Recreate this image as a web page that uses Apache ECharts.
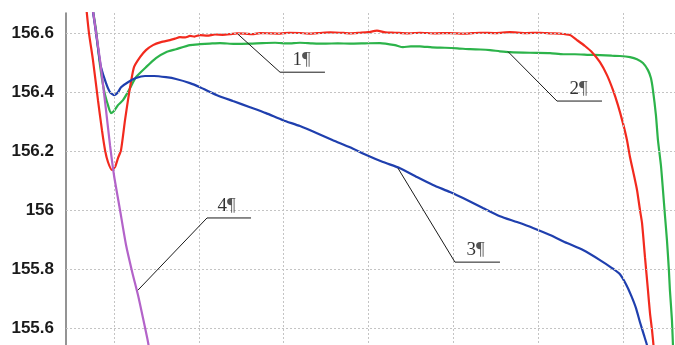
<!DOCTYPE html>
<html>
<head>
<meta charset="utf-8">
<script src="https://cdn.jsdelivr.net/npm/echarts@6/dist/echarts.min.js"></script>
<style>
  html, body { margin: 0; padding: 0; background: #ffffff; }
  #chart { width: 675px; height: 345px; }
</style>
</head>
<body>
<div id="chart"></div>
<script>
// Value range shown on the vertical axis and the positions of the guide lines
const yTicks = [155.6, 155.8, 156, 156.2, 156.4, 156.6];
const xGridLines = [1, 2, 3, 4, 5, 6, 7];

// Curve 1 (red)
const curve1 = [
  [0.670,156.697],[0.705,156.602],[0.752,156.510],[0.811,156.374],[0.858,156.272],[0.894,156.205],
  [0.929,156.164],[0.976,156.137],[1.012,156.147],[1.047,156.177],[1.083,156.205],[1.130,156.306],
  [1.165,156.374],[1.200,156.435],[1.236,156.486],[1.307,156.520],[1.377,156.544],[1.460,156.561],
  [1.554,156.571],[1.660,156.578],[1.720,156.583],[1.778,156.588],[1.840,156.587],[1.896,156.592],
  [1.950,156.590],[2.014,156.595],[2.100,156.593],[2.191,156.597],[2.280,156.596],[2.368,156.598],
  [2.450,156.601],[2.545,156.600],[2.630,156.598],[2.722,156.602],[2.840,156.601],[2.958,156.600],
  [3.070,156.603],[3.193,156.602],[3.310,156.600],[3.429,156.602],[3.550,156.604],[3.665,156.603],
  [3.780,156.601],[3.901,156.603],[4.000,156.605],[4.101,156.610],[4.200,156.604],[4.314,156.603],
  [4.460,156.601],[4.608,156.603],[4.780,156.601],[4.962,156.602],[5.140,156.600],[5.316,156.603],
  [5.500,156.602],[5.670,156.605],[5.850,156.602],[6.024,156.603],[6.150,156.601],[6.259,156.600],
  [6.377,156.595],[6.460,156.578],[6.554,156.558],[6.637,156.537],[6.731,156.503],[6.814,156.459],
  [6.885,156.408],[6.943,156.357],[7.002,156.296],[7.050,156.238],[7.085,156.181],[7.132,156.119],
  [7.168,156.069],[7.203,156.001],[7.227,155.957],[7.262,155.841],[7.297,155.729],[7.321,155.651],
  [7.345,155.593],[7.368,155.525]
];

// Curve 2 (green)
const curve2 = [
  [0.741,156.697],[0.788,156.612],[0.835,156.493],[0.882,156.408],[0.929,156.357],[0.965,156.330],
  [1.000,156.337],[1.047,156.357],[1.106,156.374],[1.177,156.408],[1.259,156.452],[1.377,156.486],
  [1.495,156.517],[1.613,156.537],[1.731,156.547],[1.896,156.561],[2.014,156.564],[2.130,156.566],
  [2.250,156.568],[2.420,156.565],[2.604,156.566],[2.750,156.568],[2.899,156.569],[3.050,156.567],
  [3.193,156.569],[3.340,156.567],[3.488,156.566],[3.640,156.567],[3.783,156.566],[3.960,156.567],
  [4.137,156.568],[4.314,156.561],[4.408,156.554],[4.500,156.557],[4.608,156.557],[4.750,156.553],
  [4.903,156.552],[5.050,156.550],[5.198,156.547],[5.320,156.546],[5.434,156.544],[5.550,156.540],
  [5.670,156.537],[5.906,156.535],[6.142,156.534],[6.300,156.530],[6.436,156.530],[6.600,156.528],
  [6.731,156.527],[6.870,156.525],[6.967,156.524],[7.085,156.520],[7.168,156.513],[7.238,156.500],
  [7.297,156.476],[7.332,156.449],[7.356,156.408],[7.391,156.323],[7.415,156.238],[7.450,156.153],
  [7.474,156.069],[7.497,155.984],[7.521,155.899],[7.544,155.797],[7.556,155.729],[7.580,155.627],
  [7.592,155.542],[7.604,155.491]
];

// Curve 3 (blue)
const curve3 = [
  [0.741,156.697],[0.788,156.602],[0.823,156.527],[0.847,156.486],[0.906,156.432],[0.953,156.401],
  [1.000,156.391],[1.047,156.401],[1.083,156.418],[1.165,156.435],[1.259,156.449],[1.366,156.456],
  [1.472,156.456],[1.613,156.452],[1.731,156.446],[1.896,156.432],[2.014,156.418],[2.215,156.391],
  [2.403,156.371],[2.604,156.350],[2.792,156.330],[2.993,156.306],[3.193,156.286],[3.394,156.262],
  [3.582,156.238],[3.783,156.214],[3.983,156.187],[4.172,156.164],[4.373,156.143],[4.573,156.113],
  [4.762,156.086],[4.962,156.062],[5.163,156.035],[5.351,156.008],[5.552,155.980],[5.752,155.960],
  [5.941,155.940],[6.142,155.916],[6.342,155.889],[6.531,155.865],[6.731,155.831],[6.873,155.804],
  [6.967,155.783],[7.038,155.749],[7.097,155.712],[7.156,155.668],[7.203,155.620],[7.250,155.576],
  [7.286,155.542],[7.309,155.508]
];

// Curve 4 (violet)
const curve4 = [
  [0.741,156.700],[0.835,156.510],[0.906,156.340],[0.953,156.221],[1.000,156.119],[1.071,156.001],
  [1.142,155.882],[1.215,155.790],[1.283,155.712],[1.342,155.634],[1.401,155.553],[1.425,155.508]
];

// Leader lines: point on the curve, elbow, end of the shelf
const leader1 = [[2.462,156.598],[2.958,156.469],[3.488,156.469]];
const leader2 = [[5.646,156.539],[6.224,156.371],[6.755,156.371]];
const leader3 = [[4.349,156.143],[5.021,155.824],[5.552,155.824]];
const leader4 = [[1.283,155.729],[2.097,155.974],[2.616,155.974]];

// Callout numbers sitting on the shelves
const calloutNames = ['1', '2', '3', '4'];
const calloutAnchors = [[3.211,156.469],[6.478,156.371],[5.263,155.824],[2.327,155.974]];

const chart = echarts.init(document.getElementById('chart'), null, { renderer: 'canvas' });

function curveSeries(name, data, color, z) {
  return {
    name: name, type: 'line', data: data, z: z,
    symbol: 'none', smooth: 0.2, clip: true, silent: true,
    lineStyle: { color: color, width: 2.2 }
  };
}

function leaderSeries(data) {
  return {
    type: 'line', data: data, z: 6, symbol: 'none', silent: true,
    lineStyle: { color: '#1a1a1a', width: 1 }
  };
}

const gridStyle = { color: '#c4c4c4', width: 1, type: [2, 2] };

chart.setOption({
  animation: false,
  backgroundColor: '#ffffff',
  grid: { left: 66, right: 0, top: 13, bottom: -42, containLabel: false, outerBoundsMode: 'none' },
  xAxis: {
    type: 'value', min: 0.434, max: 7.616, show: false
  },
  yAxis: {
    type: 'value', min: 155.4, max: 156.67, interval: 0.2,
    axisLine: { show: true, lineStyle: { color: '#707070', width: 1.5 } },
    axisTick: { show: false },
    splitLine: { show: false },
    axisLabel: {
      showMaxLabel: false, showMinLabel: false, margin: 12,
      color: '#1a1a1a', fontSize: 17, fontWeight: 'bold',
      fontFamily: '"Liberation Sans", Arial, sans-serif'
    }
  },
  series: [
    {
      type: 'line', data: [], z: 1, silent: true,
      markLine: {
        silent: true, symbol: ['none', 'none'], animation: false,
        label: { show: false }, lineStyle: gridStyle,
        emphasis: { disabled: true },
        data: yTicks.map(v => ({ yAxis: v })).concat(xGridLines.map(v => ({ xAxis: v })))
      }
    },
    curveSeries('2', curve2, '#2cb34a', 3),
    curveSeries('1', curve1, '#f22a1e', 4),
    curveSeries('3', curve3, '#1f3fae', 4),
    curveSeries('4', curve4, '#b363c9', 5),
    leaderSeries(leader1),
    leaderSeries(leader2),
    leaderSeries(leader3),
    leaderSeries(leader4),
    {
      type: 'scatter', z: 7, silent: true, symbolSize: 1,
      itemStyle: { color: 'rgba(0,0,0,0)' },
      data: calloutAnchors.map((p, i) => [p[0], p[1], calloutNames[i]]),
      label: {
        show: true, position: 'top', distance: 2,
        formatter: p => '{n|' + p.value[2] + '}{p|¶}',
        rich: {
          n: { fontFamily: '"Liberation Serif", "Times New Roman", serif', fontSize: 19, color: '#000000', lineHeight: 19 },
          p: { fontFamily: '"Liberation Serif", "Times New Roman", serif', fontSize: 19, color: '#2a2a2a', lineHeight: 19 }
        }
      }
    }
  ]
});
</script>
</body>
</html>
